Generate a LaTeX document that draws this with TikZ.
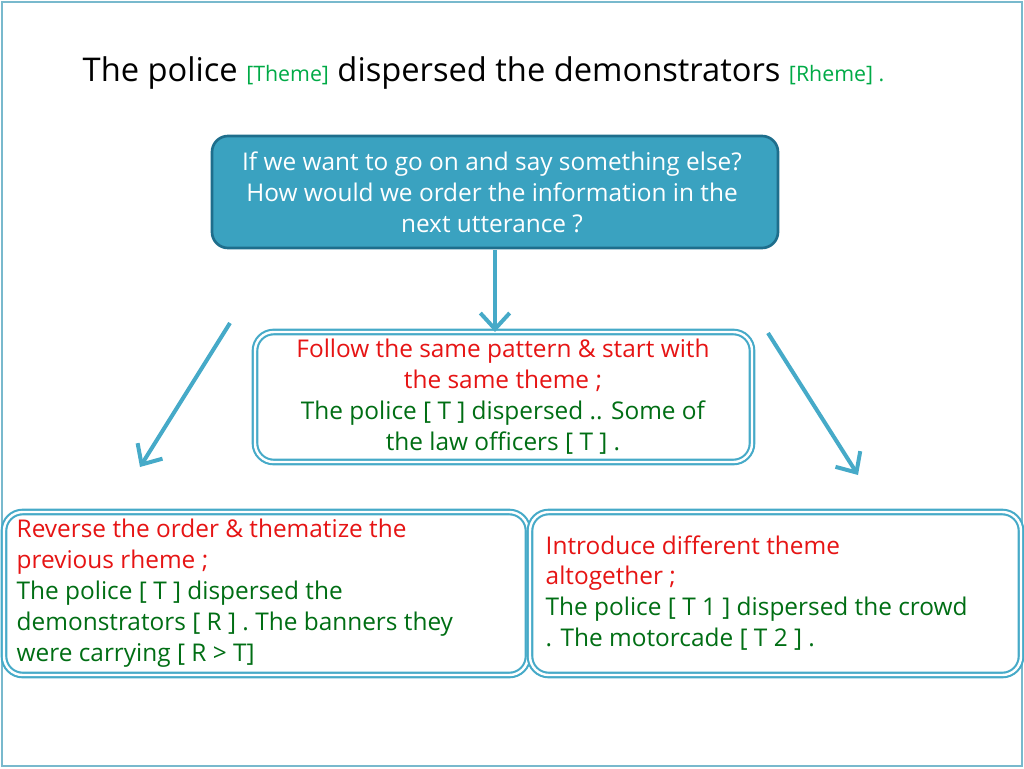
\documentclass[tikz,border=0pt]{standalone}
\usepackage{fontspec}
\setmainfont{Open Sans}
\usetikzlibrary{arrows.meta}
\definecolor{frameblue}{RGB}{120,185,205}
\definecolor{tealbox}{RGB}{58,162,192}
\definecolor{tealdark}{RGB}{30,110,140}
\definecolor{arrowblue}{RGB}{70,170,200}
\definecolor{txtred}{RGB}{230,20,20}
\definecolor{txtgreen}{RGB}{0,110,20}
\definecolor{titlegreen}{RGB}{0,170,70}
\tikzset{
  infobox/.style={draw=arrowblue,double=white,double distance=1.8pt,line width=1.6pt,rounded corners=14pt,fill=white},
  flowarrow/.style={draw=arrowblue,line width=3pt,-{Straight Barb[length=12pt,width=22pt,line width=3pt]}},
  body/.style={font=\fontsize{18.3}{23.2}\selectfont}
}
\begin{document}
\begin{tikzpicture}[x=0.75pt,y=-0.75pt]
  \useasboundingbox (0,0) rectangle (1024,768);
  \draw[frameblue,line width=1.2pt] (2,2) rectangle (1022,766);
  % title
  \node[anchor=west,font=\fontsize{24.5}{28}\selectfont] (title) at (78,73)
    {The police {\color{titlegreen}\fontsize{16}{18}\selectfont[Theme]} dispersed the demonstrators {\color{titlegreen}\fontsize{16}{18}\selectfont[Rheme] .}};
  % question box
  \draw[tealdark,fill=tealbox,line width=2pt,rounded corners=12pt] (212,136) rectangle (778,248);
  \node[body,white,align=center] (question) at (492,192)
    {If we want to go on and say something else?\\How would we order the information in the\\next utterance ?};
  \coordinate (qbottom) at (495,250);
  % same theme box
  \draw[infobox] (255,332) rectangle (752,462);
  \node[body,align=center] (same) at (503,397)
    {\color{txtred}Follow the same pattern \& start with\\\color{txtred}the same theme ;\\\color{txtgreen}The police [ T ] dispersed .. Some of\\\color{txtgreen}the law officers [ T ] .};
  % reverse box
  \draw[infobox] (4,512) rectangle (528,675);
  \node[body,align=left,anchor=west] (reverse) at (12,593)
    {\color{txtred}Reverse the order \& thematize the\\\color{txtred}previous rheme ;\\\color{txtgreen}The police [ T ] dispersed the\\\color{txtgreen}demonstrators [ R ] . The banners they\\\color{txtgreen}were carrying [ R > T]};
  % different theme box
  \draw[infobox] (530,512) rectangle (1021,675);
  \node[body,align=left,anchor=west] (different) at (541,593)
    {\color{txtred}Introduce different theme\\\color{txtred}altogether ;\\\color{txtgreen}The police [ T 1 ] dispersed the crowd\\\color{txtgreen}. The motorcade [ T 2 ] .};
  % arrows
  \coordinate (lstart) at (230,323);
  \coordinate (lend) at (140,467);
  \coordinate (rstart) at (768,333);
  \coordinate (rend) at (858,475);
  \coordinate (mend) at (495,332);
  \draw[flowarrow] (qbottom) -- (mend);
  \draw[flowarrow] (lstart) -- (lend);
  \draw[flowarrow] (rstart) -- (rend);
\end{tikzpicture}
\end{document}
